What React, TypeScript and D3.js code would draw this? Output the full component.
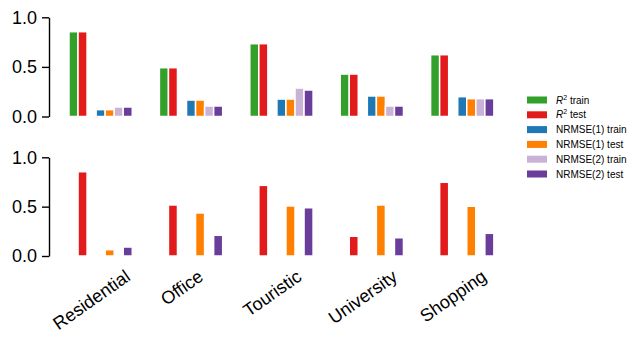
import React, { useEffect, useRef } from 'react';
import * as d3 from 'd3';

const categories = ['Residential', 'Office', 'Touristic', 'University', 'Shopping'];

// top panel
const r2Train = [0.855, 0.492, 0.734, 0.428, 0.623];
const r2Test = [0.855, 0.492, 0.734, 0.428, 0.623];
const nrmse1Train = [0.069, 0.166, 0.176, 0.207, 0.2];
const nrmse1Test = [0.069, 0.166, 0.176, 0.207, 0.18];
const nrmse2Train = [0.096, 0.106, 0.287, 0.106, 0.18];
const nrmse2Test = [0.096, 0.106, 0.267, 0.106, 0.18];

// bottom panel
const r2TestB = [0.854, 0.517, 0.716, 0.2, 0.747];
const nrmse1TestB = [0.064, 0.436, 0.507, 0.517, 0.504];
const nrmse2TestB = [0.091, 0.21, 0.489, 0.185, 0.23];

const yTicks = [0, 0.5, 1];
const yTickLabels = ['0.0', '0.5', '1.0'];

const legendLabels = ['train', 'test', 'NRMSE(1) train', 'NRMSE(1) test', 'NRMSE(2) train', 'NRMSE(2) test'];
const colors = ['#33a02c', '#e31a1c', '#1f78b4', '#ff7f00', '#cab2d6', '#6a3d9a'];

const FONT = '"Liberation Sans", Arial, Helvetica, sans-serif';

const App = () => {
  const ref = useRef<SVGSVGElement>(null);

  useEffect(() => {
    const svg = d3.select(ref.current);
    svg.selectAll('*').remove();

    // 10 slots per category, 7 used
    const x = d3.scaleLinear().domain([0, 50]).range([69, 521]);
    const slot = x(1) - x(0);

    const panels = [
      {
        y: d3.scaleLinear().domain([0, 1]).range([116.5, 17.3]),
        series: [
          { vals: r2Train, slot: 0, color: colors[0] },
          { vals: r2Test, slot: 1, color: colors[1] },
          { vals: nrmse1Train, slot: 3, color: colors[2] },
          { vals: nrmse1Test, slot: 4, color: colors[3] },
          { vals: nrmse2Train, slot: 5, color: colors[4] },
          { vals: nrmse2Test, slot: 6, color: colors[5] },
        ],
      },
      {
        y: d3.scaleLinear().domain([0, 1]).range([256, 157.3]),
        series: [
          { vals: r2TestB, slot: 1, color: colors[1] },
          { vals: nrmse1TestB, slot: 4, color: colors[3] },
          { vals: nrmse2TestB, slot: 6, color: colors[5] },
        ],
      },
    ];

    panels.forEach(p => {
      const g = svg.append('g');
      p.series.forEach(s => {
        g.selectAll(null)
          .data(s.vals)
          .enter().append('rect')
          .attr('x', (d, i) => x(i * 10 + s.slot))
          .attr('width', slot)
          .attr('y', d => p.y(d))
          .attr('height', d => p.y(0) - p.y(d))
          .attr('fill', s.color)
          .attr('stroke', '#fff')
          .attr('stroke-width', 1.5);
      });

      const axis = svg.append('g')
        .attr('transform', 'translate(49,0)')
        .call(d3.axisLeft(p.y)
          .tickValues(yTicks)
          .tickFormat((d, i) => yTickLabels[i])
          .tickSize(7)
          .tickSizeOuter(0)
          .tickPadding(5));
      axis.select('.domain').attr('stroke-width', 1.4);
      axis.selectAll('.tick line').attr('stroke-width', 1.4);
      axis.selectAll('.tick text')
        .attr('font-family', FONT)
        .attr('font-size', 18)
        .attr('fill', '#000');
    });

    // rotated category labels, bbox centered on tick, top aligned
    const ang = 35 * Math.PI / 180;
    const lineH = 20.5;
    const top = 266;
    categories.forEach((c, i) => {
      const cx = x(i * 10 + 2.5);
      const t = svg.append('text')
        .attr('font-family', FONT)
        .attr('font-size', 18)
        .attr('text-anchor', 'middle')
        .attr('dominant-baseline', 'central')
        .text(c);
      const len = (t.node() as SVGTextElement).getComputedTextLength();
      const h = len * Math.sin(ang) + lineH * Math.cos(ang);
      const cy = top + h / 2;
      t.attr('transform', `translate(${cx},${cy}) rotate(-35)`);
    });

    // legend
    const lg = svg.append('g');
    legendLabels.forEach((l, i) => {
      const ly = 100 + i * 14.8;
      lg.append('rect')
        .attr('x', 527).attr('y', ly - 3.5)
        .attr('width', 20).attr('height', 7)
        .attr('fill', colors[i]);
      const t = lg.append('text')
        .attr('x', 556).attr('y', ly + 3.5)
        .attr('font-family', FONT)
        .attr('font-size', 10)
        .attr('fill', '#000');
      if (i < 2) {
        t.append('tspan').attr('font-style', 'italic').text('R');
        t.append('tspan').attr('font-size', 7).attr('dy', -4).text('2');
        t.append('tspan').attr('dy', 4).text(' ' + l);
      } else {
        t.text(l);
      }
    });
  }, []);

  return (
    <svg ref={ref} width={641} height={348}
      style={{ position: 'absolute', left: 0, top: 0, background: '#fff' }} />
  );
};

export default App;
